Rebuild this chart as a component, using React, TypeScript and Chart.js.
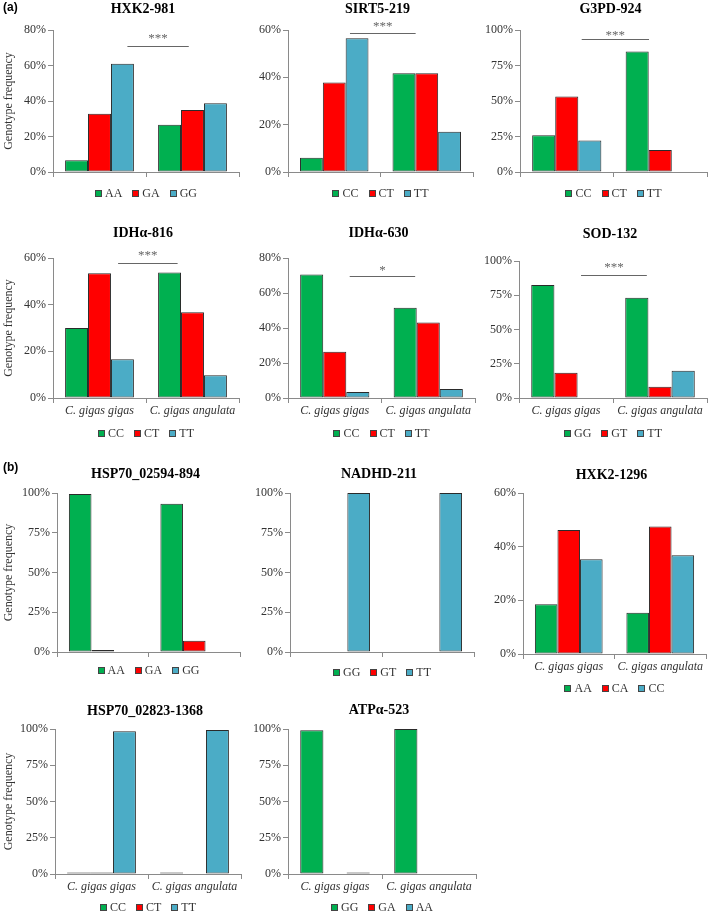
import React, { useEffect, useRef } from "react";
import { Chart, registerables } from "chart.js";

Chart.register(...registerables);

// ---------------- DATA ----------------
const POPULATIONS = ["C. gigas gigas", "C. gigas angulata"];

const HXK2_981_GENOTYPES = ["AA", "GA", "GG"];
const HXK2_981_GIGAS = [6.6, 32.8, 61.0];
const HXK2_981_ANGULATA = [26.6, 35.0, 38.8];

const SIRT5_219_GENOTYPES = ["CC", "CT", "TT"];
const SIRT5_219_GIGAS = [6.0, 37.8, 56.5];
const SIRT5_219_ANGULATA = [41.7, 41.7, 17.0];

const G3PD_924_GENOTYPES = ["CC", "CT", "TT"];
const G3PD_924_GIGAS = [25.8, 53.2, 22.2];
const G3PD_924_ANGULATA = [84.8, 15.5, 0];

const IDHA_816_GENOTYPES = ["CC", "CT", "TT"];
const IDHA_816_GIGAS = [30.0, 53.5, 16.6];
const IDHA_816_ANGULATA = [53.8, 36.7, 9.8];

const IDHA_630_GENOTYPES = ["CC", "CT", "TT"];
const IDHA_630_GIGAS = [70.6, 26.4, 3.4];
const IDHA_630_ANGULATA = [51.6, 43.1, 5.1];

const SOD_132_GENOTYPES = ["GG", "GT", "TT"];
const SOD_132_GIGAS = [82.4, 18.4, 0];
const SOD_132_ANGULATA = [73.2, 8.2, 19.8];

const HSP70_894_GENOTYPES = ["AA", "GA", "GG"];
const HSP70_894_GIGAS = [99.4, 1.3, 0];
const HSP70_894_ANGULATA = [93.3, 7.1, 0];

const NADHD_211_GENOTYPES = ["GG", "GT", "TT"];
const NADHD_211_GIGAS = [0, 0, 100];
const NADHD_211_ANGULATA = [0, 0, 100];

const HXK2_1296_GENOTYPES = ["AA", "CA", "CC"];
const HXK2_1296_GIGAS = [18.5, 46.2, 35.3];
const HXK2_1296_ANGULATA = [15.4, 47.5, 36.8];

const HSP70_1368_GENOTYPES = ["CC", "CT", "TT"];
const HSP70_1368_GIGAS = [1.0, 1.0, 98.4];
const HSP70_1368_ANGULATA = [1.0, 0, 99.3];

const ATPA_523_GENOTYPES = ["GG", "GA", "AA"];
const ATPA_523_GIGAS = [99.1, 0, 1.0];
const ATPA_523_ANGULATA = [100, 0, 0];

const TITLES = [
  "HXK2-981", "SIRT5-219", "G3PD-924",
  "IDHα-816", "IDHα-630", "SOD-132",
  "HSP70_02594-894", "NADHD-211", "HXK2-1296",
  "HSP70_02823-1368", "ATPα-523",
];
const Y_MAX = [80, 60, 100, 60, 80, 100, 100, 100, 60, 100, 100];
const Y_STEP = [20, 20, 25, 20, 20, 25, 25, 25, 20, 25, 25];
const SIG_TEXT = ["***", "***", "***", "***", "*", "***", "", "", "", "", ""];
const SIG_LEVEL = [71, 58.7, 94, 58, 70, 90, 0, 0, 0, 0, 0];
const Y_AXIS_TITLE = "Genotype frequency";

const SPECS = [
  [HXK2_981_GENOTYPES, HXK2_981_GIGAS, HXK2_981_ANGULATA],
  [SIRT5_219_GENOTYPES, SIRT5_219_GIGAS, SIRT5_219_ANGULATA],
  [G3PD_924_GENOTYPES, G3PD_924_GIGAS, G3PD_924_ANGULATA],
  [IDHA_816_GENOTYPES, IDHA_816_GIGAS, IDHA_816_ANGULATA],
  [IDHA_630_GENOTYPES, IDHA_630_GIGAS, IDHA_630_ANGULATA],
  [SOD_132_GENOTYPES, SOD_132_GIGAS, SOD_132_ANGULATA],
  [HSP70_894_GENOTYPES, HSP70_894_GIGAS, HSP70_894_ANGULATA],
  [NADHD_211_GENOTYPES, NADHD_211_GIGAS, NADHD_211_ANGULATA],
  [HXK2_1296_GENOTYPES, HXK2_1296_GIGAS, HXK2_1296_ANGULATA],
  [HSP70_1368_GENOTYPES, HSP70_1368_GIGAS, HSP70_1368_ANGULATA],
  [ATPA_523_GENOTYPES, ATPA_523_GIGAS, ATPA_523_ANGULATA],
].map(([genotypes, gigas, angulata], i) => ({
  title: TITLES[i],
  genotypes: genotypes as string[],
  gigas: gigas as number[],
  angulata: angulata as number[],
  max: Y_MAX[i],
  step: Y_STEP[i],
  sig: SIG_TEXT[i],
  sigLevel: SIG_LEVEL[i],
}));

// ---------------- LAYOUT / STYLE ----------------
const COLORS = ["#00B050", "#FF0000", "#4BACC6"];
const SERIF = "'Liberation Serif', 'Times New Roman', serif";
const SANS = "'Liberation Sans', Arial, sans-serif";
const AXIS_COLOR = "#8a8a8a";
const TEXT_COLOR = "#333333";
const XH = 22;

// page coordinates of each plot area and decorations
const GEO = [
  { x0: 0, plotL: 53, plotR: 239, plotT: 30, plotB: 172, titleY: 9, legendY: 193, showX: false, yTitle: true, label: "(a)", labelY: 8, sx: [0.40, 0.73], sdy: 11 },
  { x0: 244, plotL: 288, plotR: 473, plotT: 30, plotB: 172, titleY: 9, legendY: 193, showX: false, yTitle: false, sx: [0.335, 0.69], sdy: 10 },
  { x0: 478, plotL: 520, plotR: 707, plotT: 30, plotB: 172, titleY: 9, legendY: 193, showX: false, yTitle: false, sx: [0.33, 0.69], sdy: 7 },
  { x0: 0, plotL: 53, plotR: 239, plotT: 258, plotB: 398, titleY: 233, legendY: 433, showX: true, yTitle: true, sx: [0.35, 0.67], sdy: 11 },
  { x0: 244, plotL: 288, plotR: 475, plotT: 258, plotB: 398, titleY: 233, legendY: 433, showX: true, yTitle: false, sx: [0.33, 0.68], sdy: 9 },
  { x0: 478, plotL: 519, plotR: 707, plotT: 261, plotB: 398, titleY: 234, legendY: 433, showX: true, yTitle: false, sx: [0.33, 0.68], sdy: 11 },
  { x0: 0, plotL: 57, plotR: 240, plotT: 493, plotB: 652, titleY: 474, legendY: 670, showX: false, yTitle: true, label: "(b)", labelY: 468 },
  { x0: 244, plotL: 290, plotR: 474, plotT: 493, plotB: 652, titleY: 474, legendY: 672, showX: false, yTitle: false },
  { x0: 478, plotL: 523, plotR: 706, plotT: 493, plotB: 654, titleY: 475, legendY: 688, showX: true, yTitle: false },
  { x0: 0, plotL: 55, plotR: 241, plotT: 729, plotB: 874, titleY: 711, legendY: 907, showX: true, yTitle: true },
  { x0: 244, plotL: 288, plotR: 476, plotT: 729, plotB: 874, titleY: 710, legendY: 907, showX: true, yTitle: false },
];

const decorPlugin = {
  id: "decor",
  afterDraw(chart: any, _args: any, opts: any) {
    const ctx = chart.ctx;
    const a = chart.chartArea;
    const cx = (a.left + a.right) / 2;
    ctx.save();
    // title
    ctx.fillStyle = "#000";
    ctx.font = `bold 14px ${SERIF}`;
    ctx.textAlign = "center";
    ctx.textBaseline = "middle";
    ctx.fillText(opts.title, cx - 3, opts.titleY);
    // panel label
    if (opts.label) {
      ctx.font = `bold 12px ${SANS}`;
      ctx.textAlign = "left";
      ctx.fillText(opts.label, 3 - opts.x0, opts.labelY);
    }
    // significance
    if (opts.sig) {
      const y = Math.round(chart.scales.y.getPixelForValue(opts.sigLevel)) + 0.5;
      const xa = a.left + (a.right - a.left) * opts.sx[0];
      const xb = a.left + (a.right - a.left) * opts.sx[1];
      ctx.strokeStyle = "#666";
      ctx.lineWidth = 1;
      ctx.beginPath();
      ctx.moveTo(xa, y);
      ctx.lineTo(xb, y);
      ctx.stroke();
      ctx.fillStyle = "#666";
      ctx.font = `13px ${SERIF}`;
      ctx.textAlign = "center";
      ctx.textBaseline = "alphabetic";
      ctx.fillText(opts.sig, (xa + xb) / 2, y - opts.sdy + 6.5);
    }
    // legend
    const items = chart.data.datasets.map((d: any) => ({ text: d.label, color: d.backgroundColor }));
    ctx.font = `12px ${SERIF}`;
    const sq = 7, gapT = 3, gapI = 10;
    const widths = items.map((it: any) => sq + gapT + ctx.measureText(it.text).width);
    const total = widths.reduce((s: number, w: number) => s + w, 0) + gapI * (items.length - 1);
    let x = cx - total / 2;
    const ly = opts.legendY;
    ctx.textAlign = "left";
    ctx.textBaseline = "middle";
    items.forEach((it: any, i: number) => {
      const sx = Math.round(x) + 0.5;
      const sy = Math.round(ly - sq / 2) + 0.5;
      ctx.fillStyle = it.color;
      ctx.fillRect(sx, sy, sq - 1, sq - 1);
      ctx.strokeStyle = "#444";
      ctx.lineWidth = 1;
      ctx.strokeRect(sx, sy, sq - 1, sq - 1);
      ctx.fillStyle = TEXT_COLOR;
      ctx.fillText(it.text, x + sq + gapT, ly + 1);
      x += widths[i] + gapI;
    });
    ctx.restore();
  },
};

function Panel({ spec, geo }: any) {
  const ref = useRef<HTMLCanvasElement>(null);
  const x0 = geo.x0;
  const y0 = Math.max(0, geo.titleY - 12);
  const x1 = Math.min(709, geo.plotR + 3);
  const y1 = Math.min(914, geo.legendY + 9);
  const w = x1 - x0;
  const h = y1 - y0;

  useEffect(() => {
    const chart = new Chart(ref.current as HTMLCanvasElement, {
      type: "bar",
      data: {
        labels: POPULATIONS,
        datasets: spec.genotypes.map((g: string, i: number) => ({
          label: g,
          data: [spec.gigas[i], spec.angulata[i]],
          backgroundColor: COLORS[i],
          borderColor: "#2a2a2a",
          borderWidth: 1,
          borderSkipped: false,
          categoryPercentage: 0.74,
          barPercentage: 1,
        })),
      },
      options: {
        animation: false,
        responsive: false,
        devicePixelRatio: 1,
        layout: {
          padding: {
            left: 0,
            top: geo.plotT - y0,
            right: x1 - geo.plotR,
            bottom: y1 - geo.plotB - XH,
          },
        },
        plugins: {
          legend: { display: false },
          title: { display: false },
          tooltip: { enabled: false },
          decor: {
            title: spec.title,
            titleY: geo.titleY - y0,
            legendY: geo.legendY - y0,
            label: geo.label,
            labelY: (geo.labelY || 0) - y0,
            x0,
            sig: spec.sig,
            sigLevel: spec.sigLevel,
            sx: geo.sx,
            sdy: geo.sdy,
          },
        } as any,
        scales: {
          x: {
            offset: true,
            grid: {
              display: true,
              drawOnChartArea: false,
              drawTicks: true,
              tickLength: 5,
              color: AXIS_COLOR,
              offset: true,
            },
            border: { display: true, color: AXIS_COLOR, width: 1 },
            ticks: {
              display: geo.showX,
              padding: 1,
              maxRotation: 0,
              autoSkip: false,
              color: TEXT_COLOR,
              font: { family: SERIF, size: 12, style: "italic" },
            },
            afterFit: (s: any) => {
              s.height = XH;
              s.paddingLeft = 0;
              s.paddingRight = 0;
              s.paddingTop = 0;
              s.paddingBottom = 0;
            },
          },
          y: {
            min: 0,
            max: spec.max,
            grid: {
              drawOnChartArea: false,
              drawTicks: true,
              tickLength: 5,
              color: AXIS_COLOR,
            },
            border: { display: true, color: AXIS_COLOR, width: 1 },
            ticks: {
              stepSize: spec.step,
              padding: 2,
              color: TEXT_COLOR,
              font: { family: SERIF, size: 12 },
              callback: (v: any) => v + "%",
            },
            title: {
              display: geo.yTitle,
              text: Y_AXIS_TITLE,
              color: TEXT_COLOR,
              font: { family: SERIF, size: 12 },
              padding: { top: 2, bottom: 0 },
            },
            afterFit: (s: any) => {
              s.width = geo.plotL - x0;
              s.paddingTop = 0;
              s.paddingBottom = 0;
              s.paddingLeft = 0;
              s.paddingRight = 0;
            },
          },
        },
      },
      plugins: [decorPlugin],
    } as any);
    return () => chart.destroy();
  }, []);

  return (
    <canvas
      ref={ref}
      width={w}
      height={h}
      style={{ position: "absolute", left: x0, top: y0, width: w, height: h }}
    />
  );
}

export default function App() {
  return (
    <div
      style={{
        position: "absolute",
        left: 0,
        top: 0,
        width: 709,
        height: 914,
        background: "#ffffff",
        overflow: "hidden",
      }}
    >
      {SPECS.map((spec, i) => (
        <Panel key={i} spec={spec} geo={GEO[i]} />
      ))}
    </div>
  );
}
